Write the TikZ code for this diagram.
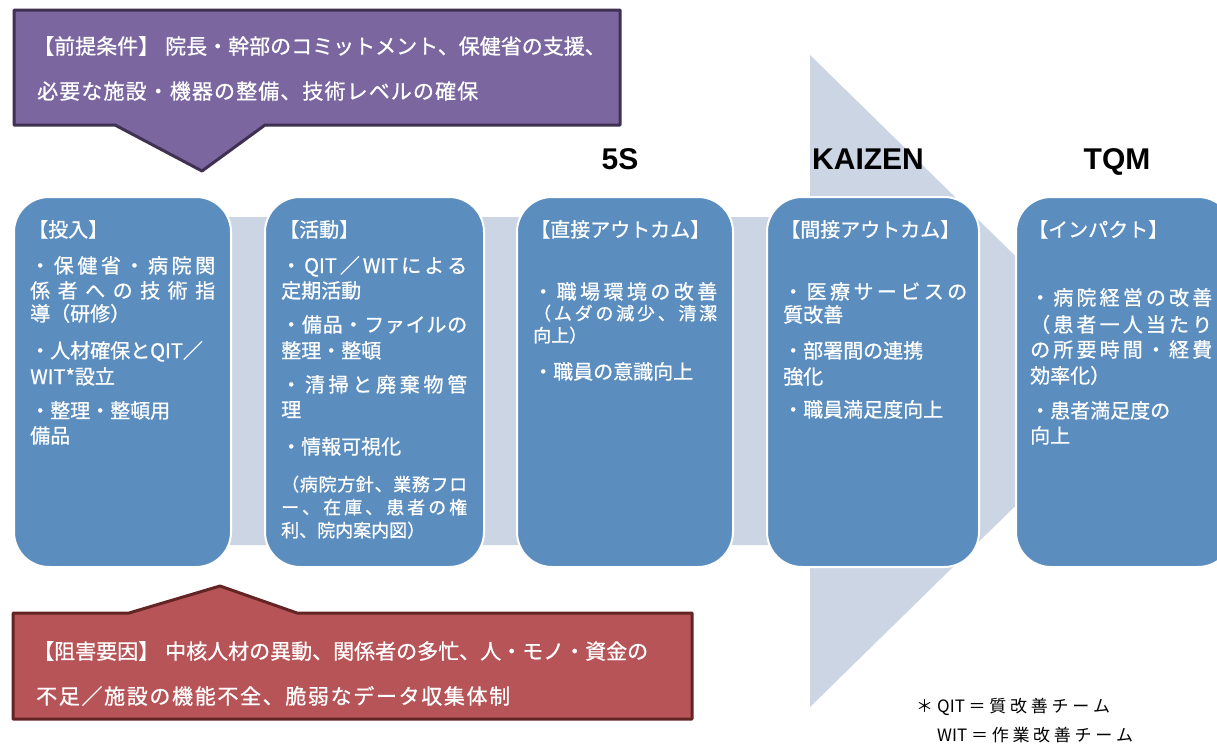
\documentclass[tikz,border=0pt]{standalone}
\usepackage{fontspec}
\setmainfont{Noto Sans CJK JP}[FakeBold=0.8]
\newfontfamily\notefont{Noto Sans CJK JP}
\newfontfamily\hdfont{Liberation Sans}
\definecolor{boxblue}{RGB}{91,141,190}
\definecolor{arrowgray}{RGB}{203,213,227}
\definecolor{purpfill}{RGB}{123,102,160}
\definecolor{purpline}{RGB}{64,49,82}
\definecolor{redfill}{RGB}{182,84,88}
\definecolor{redline}{RGB}{99,37,35}
\def\jstrd#1{\ifx\relax#1\else\hfil#1\expandafter\jstrd\fi}
\def\jstfirst#1{#1\jstrd}
\newcommand\jst[2]{\hbox to #1{\jstfirst#2\relax}}
\tikzset{
  stagebox/.style={rectangle, rounded corners=35pt, fill=boxblue, draw=white, line width=2pt, anchor=north west, minimum height=370pt, inner sep=0pt},
  body/.style={anchor=base west, inner sep=0pt, text=white, font=\fontsize{20}{24}\selectfont},
  small/.style={body, font=\fontsize{18}{22}\selectfont},
  calltxt/.style={anchor=base west, inner sep=0pt, text=white, font=\fontsize{21}{25}\selectfont},
  head/.style={anchor=base, inner sep=0pt, font=\hdfont\bfseries\fontsize{30}{34}\selectfont},
  note/.style={anchor=base west, inner sep=0pt, text=black, font=\notefont\fontsize{17}{20}\selectfont},
}
\begin{document}
\begin{tikzpicture}[x=1pt,y=-1pt]
\useasboundingbox (0,0) rectangle (1217,744);
\clip (0,0) rectangle (1217,744);
% background arrow
\fill[arrowgray] (20,217) -- (810,217) -- (810,55) -- (1143,381) -- (810,707) -- (810,545) -- (20,545) -- cycle;
% stage boxes
\node[stagebox, minimum width=217pt] (b1) at (13,196) {};
\node[stagebox, minimum width=219pt] (b2) at (264,196) {};
\node[stagebox, minimum width=216pt] (b3) at (516,196) {};
\node[stagebox, minimum width=212pt] (b4) at (766,196) {};
\node[stagebox, minimum width=217pt] (b5) at (1015,196) {};
% headings
\node[head] (h5s) at (620,169) {5S};
\node[head] (hkz) at (868,169) {KAIZEN};
\node[head] (htq) at (1117,169) {TQM};
% box 1
\node[body] (b1t0) at (28,237) {【投入】};
\node[body] (b1t1) at (30,273) {\jst{185pt}{・保健省・病院関}};
\node[body] (b1t2) at (30,298) {\jst{185pt}{係者への技術指}};
\node[body] (b1t3) at (30,321) {導（研修）};
\node[body] (b1t4) at (30,358) {・人材確保とQIT／};
\node[body] (b1t5) at (30,384) {WIT*設立};
\node[body] (b1t6) at (30,418) {・整理・整頓用};
\node[body] (b1t7) at (30,443) {備品};
% box 2
\node[body] (b2t0) at (279,237) {【活動】};
\node[body] (b2t1) at (281,273) {\jst{186pt}{・{QIT}／{WIT}による}};
\node[body] (b2t2) at (281,298) {定期活動};
\node[body] (b2t3) at (281,332) {\jst{186pt}{・備品・ファイルの}};
\node[body] (b2t4) at (281,358) {整理・整頓};
\node[body] (b2t5) at (281,392) {\jst{186pt}{・清掃と廃棄物管}};
\node[body] (b2t6) at (281,417) {理};
\node[body] (b2t7) at (281,454) {・情報可視化};
\node[small] (b2t8) at (281,491) {\jst{186pt}{（病院方針、業務フロ}};
\node[small] (b2t9) at (281,514) {\jst{186pt}{ー、在庫、患者の権}};
\node[small] (b2t10) at (281,537) {利、院内案内図）};
% box 3
\node[body] (b3t0) at (530,237) {【直接アウトカム】};
\node[body] (b3t1) at (533,299) {\jst{184pt}{・職場環境の改善}};
\node[small] (b3t2) at (533,320) {\jst{184pt}{（ムダの減少、清潔}};
\node[small] (b3t3) at (533,342) {向上）};
\node[body] (b3t4) at (533,379) {・職員の意識向上};
% box 4
\node[body] (b4t0) at (780,237) {【間接アウトカム】};
\node[body] (b4t1) at (783,299) {\jst{184pt}{・医療サービスの}};
\node[body] (b4t2) at (783,322) {質改善};
\node[body] (b4t3) at (783,358) {・部署間の連携};
\node[body] (b4t4) at (783,384) {強化};
\node[body] (b4t5) at (783,417) {・職員満足度向上};
% box 5
\node[body] (b5t0) at (1028,237) {【インパクト】};
\node[body] (b5t1) at (1030,305) {\jst{182pt}{・病院経営の改善}};
\node[body] (b5t2) at (1030,332) {\jst{182pt}{（患者一人当たり}};
\node[body] (b5t3) at (1030,357) {\jst{182pt}{の所要時間・経費}};
\node[body] (b5t4) at (1030,383) {効率化）};
\node[body] (b5t5) at (1030,418) {・患者満足度の};
\node[body] (b5t6) at (1030,443) {向上};
% purple callout
\draw[fill=purpfill, draw=purpline, line width=3pt, line join=round]
  (14,10) -- (620,10) -- (620,125) -- (265,125) -- (202,171) -- (115,125) -- (14,125) -- cycle;
\node[calltxt] (pc1) at (33,54) {【前提条件】\hspace{6pt}院長・幹部のコミットメント、保健省の支援、};
\node[calltxt] (pc2) at (37,99) {\jst{441pt}{必要な施設・機器の整備、技術レベルの確保}};
% red callout
\draw[fill=redfill, draw=redline, line width=3pt, line join=round]
  (13,613) -- (129,613) -- (220,586) -- (297,613) -- (692,613) -- (692,719) -- (13,719) -- cycle;
\node[calltxt] (rc1) at (33,659) {【阻害要因】\hspace{6pt}中核人材の異動、関係者の多忙、人・モノ・資金の};
\node[calltxt] (rc2) at (36,704) {\jst{474pt}{不足／施設の機能不全、脆弱なデータ収集体制}};
% footnote
\node[note] (n1) at (916,712) {＊};
\node[note] (n2) at (937,712) {\jst{173pt}{{QIT}＝質改善チーム}};
\node[note] (n3) at (937,741) {\jst{196pt}{{WIT}＝作業改善チーム}};
\end{tikzpicture}
\end{document}
